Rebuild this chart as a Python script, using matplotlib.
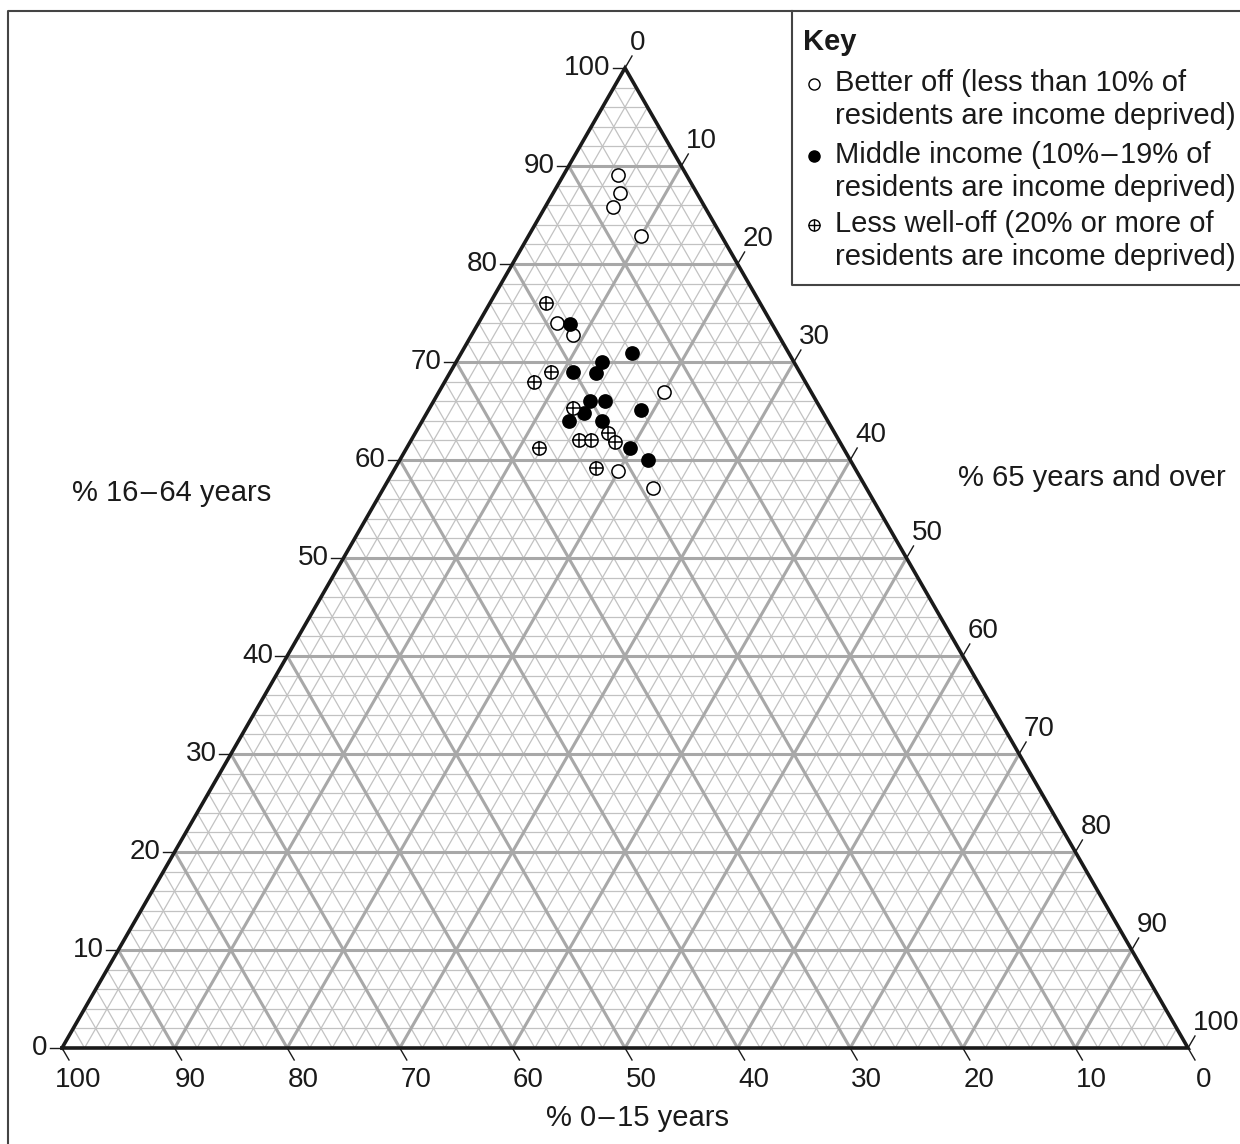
#!/usr/bin/env python

import matplotlib.pyplot as plt
import numpy as np
from matplotlib.lines import Line2D

plt.rcParams['font.family'] = ['Liberation Sans', 'DejaVu Sans']

## the data: % 0-15 years, % 16-64 years, % 65 years and over
better_young   = [6.1, 6.8, 8.2, 7.1, 19.0, 18.2, 13.1, 21.2, 19.0]
better_working = [89.1, 87.2, 85.8, 82.9, 74.0, 72.8, 66.9, 58.9, 57.1]
better_old     = [4.8, 6.0, 6.0, 10.0, 7.0, 9.0, 20.0, 19.9, 23.9]

middle_young   = [17.9, 13.9, 17.0, 20.1, 18.1, 20.1, 18.8, 21.2, 16.0, 23.0, 20.0, 19.0, 18.0]
middle_working = [73.9, 70.9, 70.0, 69.0, 68.9, 66.0, 66.0, 64.8, 65.1, 64.0, 64.0, 61.2, 60.0]
middle_old     = [8.2, 15.2, 13.0, 10.9, 13.0, 13.9, 15.2, 14.0, 18.9, 13.0, 16.0, 19.8, 22.0]

less_young   = [19.0, 22.1, 24.1, 22.0, 20.1, 23.1, 22.0, 20.0, 27.0, 23.0]
less_working = [76.0, 69.0, 68.0, 65.3, 62.8, 62.0, 62.0, 61.8, 61.2, 59.2]
less_old     = [5.0, 8.9, 7.9, 12.7, 17.1, 14.9, 16.0, 18.2, 11.8, 17.8]

ticks = np.arange(0, 101, 10)


def tern(young, working, old):
    young = np.asarray(young, float)
    working = np.asarray(working, float)
    old = np.asarray(old, float)
    tot = young + working + old
    working = 100 * working / tot
    old = 100 * old / tot
    return old + working / 2.0, working


fig = plt.figure(figsize=(12.4, 11.44), dpi=100)
ax = fig.add_axes([0, 0, 1, 1])
ax.set_xlim(-62 / 11.26, (1240 - 62) / 11.26)
ax.set_ylim(-(1144 - 1048) / 9.8, 1048 / 9.8)
ax.axis('off')

## grid lines every 2%, heavier every 10%
for v in range(2, 100, 2):
    major = (v % 10 == 0)
    col = '#a8a8a8' if major else '#c2c2c2'
    lw = 2.2 if major else 0.9
    z = 2 if major else 1
    # constant 16-64
    x0, y0 = tern(100 - v, v, 0)
    x1, y1 = tern(0, v, 100 - v)
    ax.plot([x0, x1], [y0, y1], color=col, lw=lw, zorder=z, solid_capstyle='butt')
    # constant 65+
    x0, y0 = tern(100 - v, 0, v)
    x1, y1 = tern(0, 100 - v, v)
    ax.plot([x0, x1], [y0, y1], color=col, lw=lw, zorder=z, solid_capstyle='butt')
    # constant 0-15
    x0, y0 = tern(v, 0, 100 - v)
    x1, y1 = tern(v, 100 - v, 0)
    ax.plot([x0, x1], [y0, y1], color=col, lw=lw, zorder=z, solid_capstyle='butt')

## the triangle
cx, cy = tern([100, 0, 0, 100], [0, 100, 0, 0], [0, 0, 100, 0])
ax.plot(cx, cy, color='#1a1a1a', lw=2.6, zorder=3, solid_joinstyle='miter')

## ticks and tick labels
dxl = 12 / 11.26
dxs, dys = 7 / 11.26, 12 / 9.8
fs = 20
fs2 = 21
for t in ticks:
    # left axis: % 16-64
    x, y = tern(100 - t, t, 0)
    ax.plot([x - dxl, x], [y, y], color='#1a1a1a', lw=1.0, zorder=3)
    ax.text(x - dxl - 0.2, y, '%d' % t, ha='right', va='center', fontsize=fs, color='#1a1a1a')
    # bottom axis: % 0-15
    x, y = tern(t, 0, 100 - t)
    ax.plot([x, x + dxs], [y, y - dys], color='#1a1a1a', lw=1.0, zorder=3)
    ax.text(x + 16 / 11.26, y - 32 / 9.8, '%d' % t, ha='center', va='center', fontsize=fs, color='#1a1a1a')
    # right axis: % 65+
    x, y = tern(0, 100 - t, t)
    ax.plot([x, x + dxs], [y, y + dys], color='#1a1a1a', lw=1.0, zorder=3)
    ax.text(x + 5 / 11.26, y + 25 / 9.8, '%d' % t, ha='left', va='center', fontsize=fs, color='#1a1a1a')

## the points
ms = 9.5
x, y = tern(better_young, better_working, better_old)
ax.plot(x, y, 'o', ms=ms, mfc='white', mec='black', mew=1.1, zorder=5)
x, y = tern(middle_young, middle_working, middle_old)
ax.plot(x, y, 'o', ms=ms, mfc='black', mec='black', mew=1.1, zorder=5)
x, y = tern(less_young, less_working, less_old)
ax.plot(x, y, 'o', ms=ms, mfc='white', mec='black', mew=1.1, zorder=5)
ax.plot(x, y, '+', ms=ms, mec='black', mew=1.1, zorder=6)

## axis titles
def px(x, y):
    return x / 1240.0, 1 - y / 1144.0

dash = '\u200a\u2013\u200a'
fig.text(*px(172, 493), '% 16' + dash + '64 years', ha='center', va='center', fontsize=fs2, color='#1a1a1a')
fig.text(*px(1092, 478), '% 65 years and over', ha='center', va='center', fontsize=fs2, color='#1a1a1a')
fig.text(*px(638, 1118), '% 0' + dash + '15 years', ha='center', va='center', fontsize=fs2, color='#1a1a1a')

## page frame
fig.add_artist(Line2D([8 / 1240, 8 / 1240, 1], [0, 1 - 11 / 1144, 1 - 11 / 1144],
                      transform=fig.transFigure, color='#444444', lw=1.5))

## the key
fig.add_artist(Line2D([792 / 1240, 792 / 1240, 1], [1 - 11 / 1144, 1 - 285 / 1144, 1 - 285 / 1144],
                      transform=fig.transFigure, color='#444444', lw=1.5))
fig.text(*px(803, 42), 'Key', ha='left', va='center', fontsize=fs2, fontweight='bold', color='#1a1a1a')
key_lines = [
    ('Better off (less than 10% of', 'residents are income deprived)'),
    ('Middle income (10%' + dash + '19% of', 'residents are income deprived)'),
    ('Less well-off (20% or more of', 'residents are income deprived)'),
]
key_y = [83, 155, 224]
for (l1, l2), yy in zip(key_lines, key_y):
    fig.text(*px(835, yy), l1, ha='left', va='center', fontsize=fs2, color='#1a1a1a')
    fig.text(*px(835, yy + 33), l2, ha='left', va='center', fontsize=fs2, color='#1a1a1a')

kx = 814 / 1240
fig.add_artist(Line2D([kx], [1 - 84 / 1144], marker='o', ms=8, mfc='white', mec='black', mew=1.0,
                      transform=fig.transFigure))
fig.add_artist(Line2D([kx], [1 - 156 / 1144], marker='o', ms=8, mfc='black', mec='black', mew=1.0,
                      transform=fig.transFigure))
fig.add_artist(Line2D([kx], [1 - 225 / 1144], marker='o', ms=8, mfc='white', mec='black', mew=1.0,
                      transform=fig.transFigure))
fig.add_artist(Line2D([kx], [1 - 225 / 1144], marker='+', ms=8, mec='black', mew=1.0,
                      transform=fig.transFigure))

plt.savefig('out.png', dpi=100)
